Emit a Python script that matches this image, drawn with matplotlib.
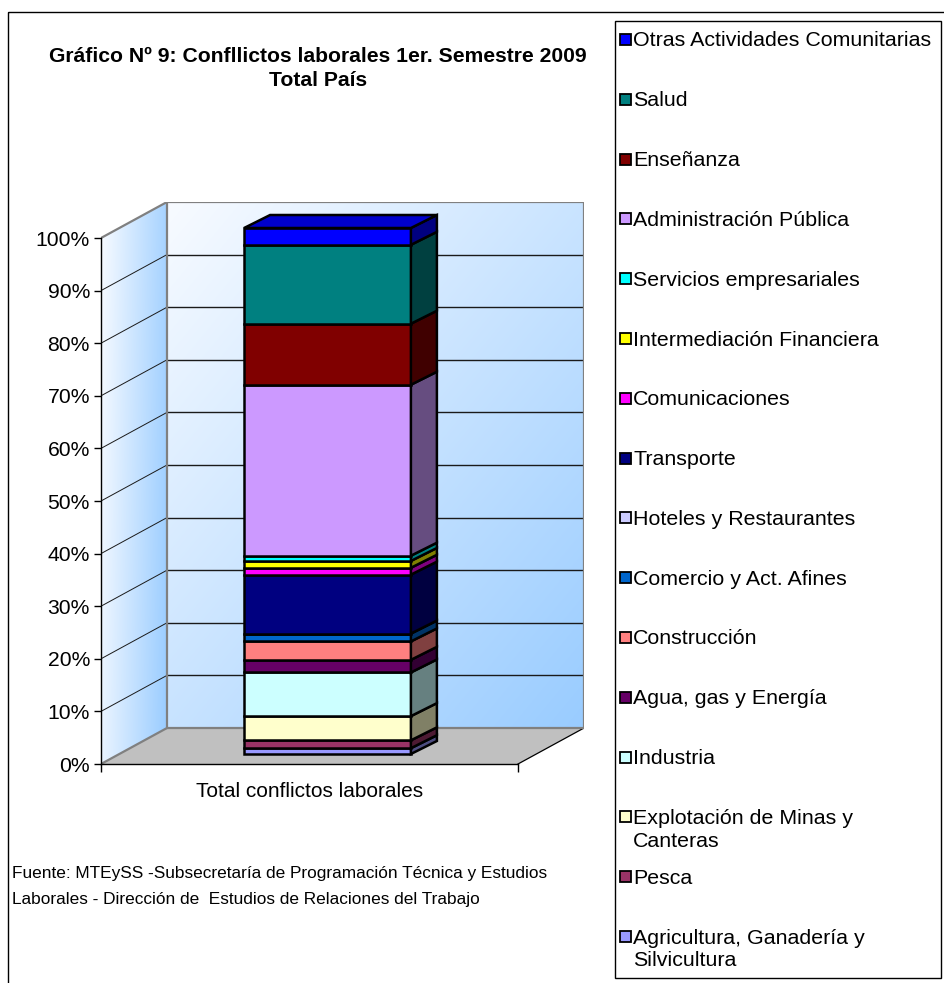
import numpy as np
import matplotlib
matplotlib.use('Agg')
import matplotlib.pyplot as plt
import matplotlib.transforms as mtransforms
from matplotlib.patches import Polygon, Rectangle
from matplotlib.colors import to_rgb

plt.rcParams['font.family'] = ['Liberation Sans', 'DejaVu Sans']

# Datos (porcentaje de conflictos por sector, de abajo hacia arriba)
sectores = ['Agricultura, Ganadería y\nSilvicultura', 'Pesca', 'Explotación de Minas y\nCanteras',
            'Industria', 'Agua, gas y Energía', 'Construcción', 'Comercio y Act. Afines',
            'Hoteles y Restaurantes', 'Transporte', 'Comunicaciones', 'Intermediación Financiera',
            'Servicios empresariales', 'Administración Pública', 'Enseñanza', 'Salud',
            'Otras Actividades Comunitarias']
porcentajes = [1.1, 1.5, 4.6, 8.3, 2.4, 3.5, 1.5, 0.0, 11.2, 1.3, 1.3, 1.0, 32.5, 11.6, 15.0, 3.2]
colores = ['#9999FF', '#993366', '#FFFFCC', '#CCFFFF', '#660066', '#FF8080', '#0066CC', '#CCCCFF',
           '#000080', '#FF00FF', '#FFFF00', '#00FFFF', '#CC99FF', '#800000', '#008080', '#0000FF']
categoria = ['Total conflictos laborales']
yticks = np.arange(0, 101, 10)

W, H = 945, 983
fig = plt.figure(figsize=(W / 100, H / 100), dpi=100)
px = mtransforms.Affine2D().scale(1 / W, -1 / H).translate(0, 1) + fig.transFigure

# geometry of the 3D box (pixels)
x0, x1 = 101, 518
y0, y100 = 764, 238
dxw_px, dyw_px = 66, 36
ppx = (x1 - x0)            # px per x unit
ppy = (y0 - y100) / 100.0  # px per percent
dxw, dyw = dxw_px / ppx, dyw_px / ppy          # wall depth
dxf, dyf = 18 / ppx, 10 / ppy                  # bar front depth
dxb, dyb = 44 / ppx, 23 / ppy                  # bar back depth
bw = 0.4

ax = fig.add_axes([x0 / W, 1 - y0 / H, (x1 - x0 + dxw_px) / W, (y0 - y100 + dyw_px) / H])
ax.patch.set_visible(False)

# back wall gradient
g = np.linspace(0, 1, 200)
U, V = np.meshgrid(g, g)
c0, c1 = np.array(to_rgb('#F8FBFF')), np.array(to_rgb('#99CCFF'))
t = np.clip(0.15 * U + 0.85 * V, 0, 1) * 0.6 + U * 0.4
img = c0 + (c1 - c0) * np.clip(t, 0, 1)[..., None]
ax.imshow(img, extent=(-0.5 + dxw, 0.5 + dxw, dyw, 100 + dyw), origin='upper',
          aspect='auto', zorder=0, interpolation='bilinear')

# side wall gradient
t2 = np.clip(U * 0.85 + V * 0.15, 0, 1)
img2 = c0 + (c1 - c0) * t2[..., None]
side = [(-0.5, 0), (-0.5, 100), (-0.5 + dxw, 100 + dyw), (-0.5 + dxw, dyw)]
im2 = ax.imshow(img2, extent=(-0.5, -0.5 + dxw, 0, 100 + dyw), origin='upper',
                aspect='auto', zorder=0, interpolation='bilinear')
im2.set_clip_path(Polygon(side, closed=True, transform=ax.transData))

# floor
floor = [(-0.5, 0), (0.5, 0), (0.5 + dxw, dyw), (-0.5 + dxw, dyw)]
ax.add_patch(Polygon(floor, closed=True, facecolor='#C0C0C0', edgecolor='none', zorder=0.5))
ax.plot([0.5, 0.5 + dxw], [0, dyw], color='black', lw=0.9, zorder=1)

# gridlines
ax.hlines(yticks[1:-1] + dyw, -0.5 + dxw, 0.5 + dxw, color='#1a1a1a', lw=1.0, zorder=1)
for v in yticks[1:-1]:
    ax.plot([-0.5, -0.5 + dxw], [v, v + dyw], color='#1a1a1a', lw=0.7, zorder=1)

# wall borders
ax.add_patch(Rectangle((-0.5 + dxw, dyw), 1, 100, fill=False, edgecolor='#808080', lw=1.6, zorder=1.5))
ax.plot([-0.5, -0.5 + dxw], [100, 100 + dyw], color='#808080', lw=1.6, zorder=1.5)
ax.plot([-0.5, -0.5 + dxw], [0, dyw], color='#808080', lw=1.6, zorder=1.5)

# stacked 3D bar
base = 0.0
xr = bw / 2 + dxf
xl = -bw / 2 + dxf
ddx, ddy = dxb - dxf, dyb - dyf
for val, col in zip(porcentajes, colores):
    rgb = np.array(to_rgb(col))
    ax.bar(dxf, val, bottom=base + dyf, width=bw, color=col, edgecolor='black', lw=1.8, zorder=4)
    sideface = [(xr, base + dyf), (xr, base + val + dyf), (xr + ddx, base + val + dyf + ddy),
                (xr + ddx, base + dyf + ddy)]
    ax.add_patch(Polygon(sideface, closed=True, facecolor=rgb * 0.5, edgecolor='black',
                         lw=1.8, zorder=4, joinstyle='miter'))
    base += val
top = base + dyf
ax.add_patch(Polygon([(xl, top), (xr, top), (xr + ddx, top + ddy), (xl + ddx, top + ddy)],
                     closed=True, facecolor=np.array(to_rgb(colores[-1])) * 0.8,
                     edgecolor='black', lw=1.8, zorder=4))

# axes
ax.set_xlim(-0.5, 0.5 + dxw)
ax.set_ylim(0, 100 + dyw)
for s in ['top', 'right']:
    ax.spines[s].set_visible(False)
ax.spines['left'].set_bounds(0, 100)
ax.spines['bottom'].set_bounds(-0.5, 0.5)
for s in ['left', 'bottom']:
    ax.spines[s].set_linewidth(1.0)
    ax.spines[s].set_zorder(2)
ax.set_yticks(yticks)
ax.set_yticklabels([f'{v}%' for v in yticks], fontsize=15.2)
ax.tick_params(axis='y', length=5, width=1, pad=3)
ax.set_xticks([0])
ax.set_xticklabels(categoria, fontsize=15)
ax.tick_params(axis='x', which='major', length=0, pad=13)
ax.set_xticks([-0.5, 0.5], minor=True)
ax.tick_params(axis='x', which='minor', length=6, width=1)

# title and source
fig.text(318, 56, 'Gráfico Nº 9: Confllictos laborales 1er. Semestre 2009', transform=px,
         ha='center', va='center', fontsize=15.2, fontweight='bold')
fig.text(318, 81, 'Total País', transform=px, ha='center', va='center',
         fontsize=15.2, fontweight='bold')
fuente = ('Fuente: MTEySS -Subsecretaría de Programación Técnica y Estudios\n'
          'Laborales - Dirección de  Estudios de Relaciones del Trabajo')
fig.text(12, 866, fuente, transform=px, ha='left', va='top', fontsize=12.4,
         linespacing=1.9)

# frames
fig.add_artist(Rectangle((8, 12), 960, 1000, transform=px, fill=False, edgecolor='black', lw=1))
fig.add_artist(Rectangle((615, 21), 326, 957, transform=px, fill=False, edgecolor='black', lw=1))

# legend (reverse order, uniform slots)
for i, (lab, col) in enumerate(zip(sectores[::-1], colores[::-1])):
    ys = 40 + i * 59.8
    fig.add_artist(Rectangle((620, ys - 6), 11, 11, transform=px, facecolor=col,
                             edgecolor='black', lw=1.3))
    fig.text(633, ys - 8.5, lab, transform=px, ha='left', va='top', fontsize=15.4,
             linespacing=1.25)

fig.savefig('out.png', dpi=100)
